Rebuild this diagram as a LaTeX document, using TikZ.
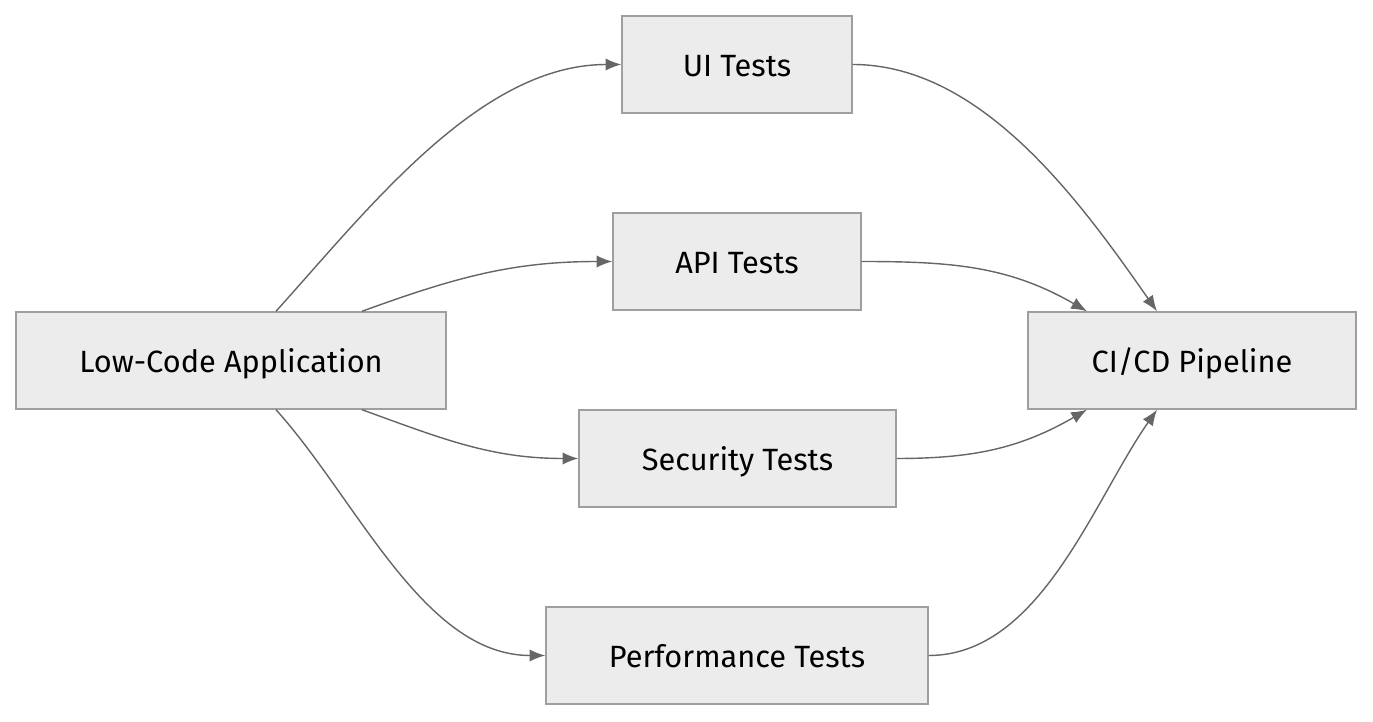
\documentclass[tikz,border=0pt]{standalone}
\usepackage{fontspec}
\setmainfont{Fira Sans}
\usetikzlibrary{arrows.meta}

\tikzset{
  box/.style={draw=gray!75, fill=gray!15, line width=0.8pt, minimum height=1.94cm,
    font=\fontsize{17.5}{20}\selectfont, inner sep=0pt, text height=15pt, text depth=1pt},
  flow/.style={draw=black!60, line width=0.8pt, -{Latex[length=9pt,width=7pt]}}
}

\begin{document}
\begin{tikzpicture}[x=0.02cm, y=-0.02cm]

% Page frame
\useasboundingbox (0,0) rectangle (1373,722);

% Source and sink
\node[box, minimum width=8.6cm] (lowcode) at (231,360.5) {Low-Code Application};
\node[box, minimum width=6.56cm] (cicd) at (1192,360.5) {CI/CD Pipeline};

% Test stages
\node[box, minimum width=4.6cm] (ui) at (737,64.5) {UI Tests};
\node[box, minimum width=4.96cm] (api) at (737,261.5) {API Tests};
\node[box, minimum width=6.34cm] (sec) at (737.5,458.5) {Security Tests};
\node[box, minimum width=7.64cm] (perf) at (737,655.5) {Performance Tests};

% Fan out
\draw[flow] ([xshift=0.9cm]lowcode.north) to[out=48,in=180,looseness=0.85] (ui.west);
\draw[flow] ([xshift=2.62cm]lowcode.north) to[out=20,in=180] (api.west);
\draw[flow] ([xshift=2.62cm]lowcode.south) to[out=-20,in=180] (sec.west);
\draw[flow] ([xshift=0.9cm]lowcode.south) to[out=-48,in=180,looseness=0.85] (perf.west);

% Fan in
\draw[flow] (ui.east) to[out=0,in=125,looseness=0.85] ([xshift=-0.7cm]cicd.north);
\draw[flow] (api.east) to[out=0,in=150] ([xshift=-2.1cm]cicd.north);
\draw[flow] (sec.east) to[out=0,in=-150] ([xshift=-2.1cm]cicd.south);
\draw[flow] (perf.east) to[out=0,in=-125,looseness=0.85] ([xshift=-0.7cm]cicd.south);

\end{tikzpicture}
\end{document}
